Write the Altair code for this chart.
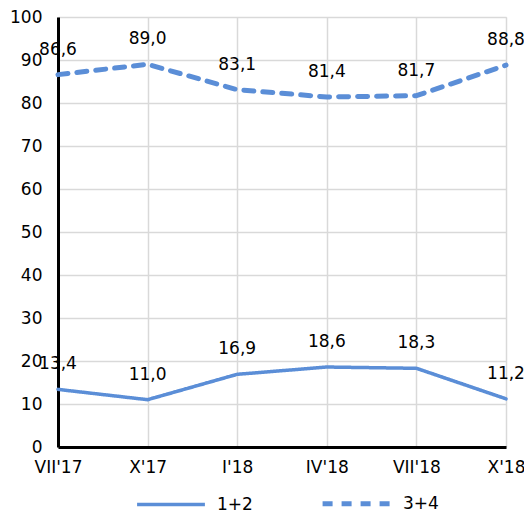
import altair as alt
import pandas as pd

periods = ["VII'17", "X'17", "I'18", "IV'18", "VII'18", "X'18"]
series_a = [13.4, 11.0, 16.9, 18.6, 18.3, 11.2]
series_b = [86.6, 89.0, 83.1, 81.4, 81.7, 88.8]
names = ["1+2", "3+4"]

rows = []
for name, vals in zip(names, [series_a, series_b]):
    for i, (p, v) in enumerate(zip(periods, vals)):
        rows.append({"period": p, "value": v, "series": name,
                     "label": f"{v:.1f}".replace(".", ",")})
df = pd.DataFrame(rows)

BLUE = "#5B8ED7"
FONT = "DejaVu Sans"
FS = 17

x = alt.X("period:N", sort=periods, scale=alt.Scale(type="point", padding=0),
          axis=alt.Axis(title=None, labelAngle=0, labelFontSize=FS, labelFont=FONT,
                        labelColor="#000", grid=True, gridColor="#d9d9d9", gridWidth=1.5,
                        domainColor="#000", domainWidth=3, ticks=False, labelPadding=12))
y = alt.Y("value:Q", scale=alt.Scale(domain=[0, 100], nice=False),
          axis=alt.Axis(title=None, values=list(range(0, 101, 10)), labelFontSize=FS,
                        labelFont=FONT, labelColor="#000", grid=True, gridColor="#d9d9d9",
                        gridWidth=1.5, domainColor="#000", domainWidth=3, ticks=False,
                        labelPadding=16))

lines = alt.Chart(df).mark_line(color=BLUE, strokeCap="round", strokeJoin="round").encode(
    x=x, y=y,
    detail="series:N",
    strokeDash=alt.StrokeDash("series:N", scale=alt.Scale(domain=names, range=[[1, 0], [10, 9]]),
                              legend=alt.Legend(title=None, orient="none", direction="horizontal",
                                                legendX=77, legendY=450,
                                                symbolType="stroke", symbolSize=4600,
                                                symbolStrokeColor=BLUE, symbolStrokeWidth=4.5,
                                                labelFontSize=FS, labelFont=FONT, labelColor="#000",
                                                columnPadding=59, labelOffset=10)),
    strokeWidth=alt.StrokeWidth("series:N", scale=alt.Scale(domain=names, range=[3.5, 5]), legend=None),
)

labels = alt.Chart(df).mark_text(dy=-25, fontSize=FS, font=FONT, color="#000").encode(
    x=x, y=y, text="label:N"
)

chart = alt.layer(lines, labels).properties(
    width=448, height=430,
    autosize=alt.AutoSizeParams(type="none"),
    padding={"left": 50, "top": 9, "right": 18, "bottom": 68},
).configure_view(stroke=None).configure(background="white")

chart.save("out.html", embed_options={"renderer": "svg", "actions": False})
